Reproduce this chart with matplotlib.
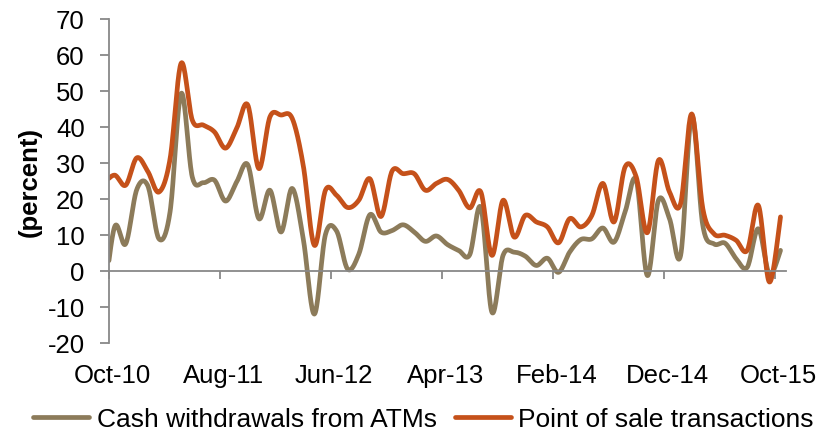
import numpy as np
import matplotlib
matplotlib.use("Agg")
import matplotlib.pyplot as plt
import matplotlib.transforms as mtransforms

plt.rcParams['font.family'] = ['Liberation Sans', 'DejaVu Sans']
plt.rcParams['axes.unicode_minus'] = False

# monthly values, Sep-10 .. Oct-15 (Sep-10 only shows as the clipped start)
atm = [-10, 12.1, 7.4, 22.5, 23.5, 8.8, 16.3, 49.2, 26.0, 24.4, 25.1,
       19.3, 24.6, 29.4, 14.4, 22.3, 10.7, 22.8, 8.8, -12.1, 10.0,
       11.0, 0.4, 4.5, 15.5, 10.7, 11.1, 12.7, 10.7, 8.1, 9.6,
       7.2, 5.6, 4.4, 17.5, -11.6, 4.2, 5.1, 4.0, 1.4, 3.4,
       -0.5, 5.1, 8.6, 8.8, 11.8, 7.9, 16.3, 25.1, -1.4, 19.5,
       14.4, 4.2, 43.0, 12.5, 7.4, 7.6, 3.3, 0.9, 11.6, -1.0, 5.6]
pos = [24, 26.5, 23.7, 31.3, 27.5, 21.8, 31.0, 57.6, 41.8, 40.4, 38.5,
       34.0, 39.5, 46.0, 28.3, 42.7, 43.2, 42.3, 29.2, 7.0, 22.3,
       20.9, 17.5, 19.5, 25.5, 15.0, 27.6, 26.9, 26.9, 22.3, 24.2,
       25.3, 22.3, 17.4, 21.8, 4.2, 19.5, 9.3, 15.3, 13.5, 12.1,
       7.7, 14.4, 12.1, 15.3, 24.2, 13.5, 28.8, 26.0, 10.5, 30.6,
       21.8, 18.6, 43.5, 17.2, 10.2, 9.8, 8.4, 5.6, 18.1, -3.2, 14.9]
tick_labels = ['Oct-10', 'Aug-11', 'Jun-12', 'Apr-13', 'Feb-14', 'Dec-14', 'Oct-15']

# points sit mid-month; month 0 (Oct-10) starts at x=0
x = np.arange(len(atm)) - 0.5


def smooth(xs, ys, n=20):
    # bezier smoothing like a spreadsheet "smoothed line"
    xs = np.asarray(xs, float)
    ys = np.asarray(ys, float)
    px = np.concatenate([[xs[0]], xs, [xs[-1]]])
    py = np.concatenate([[ys[0]], ys, [ys[-1]]])
    t = np.linspace(0, 1, n, endpoint=False)[:, None]
    outx, outy = [], []
    for i in range(1, len(px) - 2):
        p0, p1, p2, p3 = (np.array([px[j], py[j]]) for j in (i - 1, i, i + 1, i + 2))
        b1 = p1 + (p2 - p0) / 6
        b2 = p2 - (p3 - p1) / 6
        seg = ((1 - t) ** 3) * p1 + 3 * ((1 - t) ** 2) * t * b1 + 3 * (1 - t) * t ** 2 * b2 + t ** 3 * p2
        outx.append(seg[:, 0])
        outy.append(seg[:, 1])
    outx.append([xs[-1]])
    outy.append([ys[-1]])
    return np.concatenate(outx), np.concatenate(outy)


fig = plt.figure(figsize=(8.29, 4.35), dpi=100)
ax = fig.add_axes([0.1315, 0.2103, 0.8167, 0.7448])

sx, sy = smooth(x, atm)
ax.plot(sx, sy, color='#8C7B5A', lw=3.4, solid_capstyle='round',
        label='Cash withdrawals from ATMs')
sx, sy = smooth(x, pos)
ax.plot(sx, sy, color='#C5511A', lw=3.4, solid_capstyle='round',
        label='Point of sale transactions')

ax.set_xlim(0, 61)
ax.set_ylim(-20, 70)
ax.set_yticks(np.arange(-20, 71, 10))

axis_col = '#888888'
for s in ['top', 'right']:
    ax.spines[s].set_visible(False)
ax.spines['bottom'].set_position(('data', 0))
ax.spines['bottom'].set_color(axis_col)
ax.spines['left'].set_color(axis_col)
ax.spines['bottom'].set_linewidth(1.3)
ax.spines['left'].set_linewidth(1.3)

ticks = np.arange(0, 61, 10)
ax.set_xticks(ticks)
ax.set_xticklabels([])
ax.tick_params(axis='x', direction='out', length=6, width=1.3, color=axis_col)
ax.tick_params(axis='y', direction='out', length=6.5, width=1.3, color=axis_col,
               labelsize=18.5, pad=11)

trans = mtransforms.blended_transform_factory(ax.transData, ax.transAxes)
for t, lab in zip(ticks, tick_labels):
    ax.text(t + 0.3, -0.10, lab, transform=trans, ha='center', va='center', fontsize=18.5)

ax.set_ylabel('(percent)', fontsize=18.5, fontweight='bold', labelpad=4)

fig.legend(loc='center', bbox_to_anchor=(0.511, 0.034), ncol=2, frameon=False,
           fontsize=19, handlelength=2.1, handletextpad=0.3, columnspacing=0.7)

fig.savefig('out.png', dpi=100)
